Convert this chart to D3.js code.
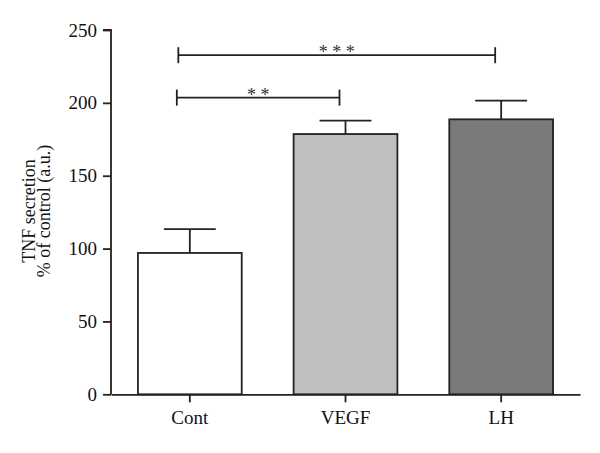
<!DOCTYPE html>
<html><head><meta charset="utf-8">
<script src="https://cdn.jsdelivr.net/npm/d3@7/dist/d3.min.js"></script>
<style>body{margin:0;background:#fff}svg{display:block}</style>
</head><body><svg id="c" width="600" height="453"></svg>
<script>
const categories = ["Cont", "VEGF", "LH"];
const means = [97, 178.6, 188.7];
const errors = [16.4, 9.2, 12.8];
const fills = ["#ffffff", "#bfbfbf", "#7a7a7a"];
const yTicks = [0, 50, 100, 150, 200, 250];
const sig = [
  {from: "Cont", to: "VEGF", y: 203.6, label: "* *"},
  {from: "Cont", to: "LH", y: 232.7, label: "* * *"}
];
const yLabel = ["TNF secretion", "% of control (a.u.)"];

const svg = d3.select("#c");
const font = "'Liberation Serif','Times New Roman',serif";
const x = d3.scaleBand().domain(categories).range([111, 580]).paddingInner(1/3).paddingOuter(0.173);
const y = d3.scaleLinear().domain([0, 250]).range([394.3, 30]);
const ink = "#222";

// bars
svg.selectAll("rect.bar").data(categories).enter().append("rect")
  .attr("x", d => x(d)).attr("width", x.bandwidth())
  .attr("y", (d,i) => y(means[i])).attr("height", (d,i) => y(0) - y(means[i]))
  .attr("fill", (d,i) => fills[i]).attr("stroke", ink).attr("stroke-width", 1.8);

// error bars (upper only)
const cap = x.bandwidth() / 2;
categories.forEach((c, i) => {
  const cx = x(c) + x.bandwidth()/2;
  svg.append("line").attr("x1", cx).attr("x2", cx)
    .attr("y1", y(means[i])).attr("y2", y(means[i] + errors[i]))
    .attr("stroke", ink).attr("stroke-width", 1.8);
  svg.append("line").attr("x1", cx - cap/2).attr("x2", cx + cap/2)
    .attr("y1", y(means[i] + errors[i])).attr("y2", y(means[i] + errors[i]))
    .attr("stroke", ink).attr("stroke-width", 1.8);
});

// axes
const yAxis = svg.append("g").attr("transform", "translate(111,0)")
  .call(d3.axisLeft(y).tickValues(yTicks).tickSize(8).tickPadding(6));
const xAxis = svg.append("g").attr("transform", `translate(0,${y(0)})`)
  .call(d3.axisBottom(x).tickSize(8).tickPadding(8).tickSizeOuter(0));
[yAxis, xAxis].forEach(g => {
  g.attr("font-size", null).attr("font-family", null);
  g.select(".domain").attr("stroke", ink).attr("stroke-width", 1.8);
  g.selectAll(".tick line").attr("stroke", ink).attr("stroke-width", 1.8);
  g.selectAll("text").attr("fill", "#111").style("font-family", font).style("font-size", "19px");
});
yAxis.select(".domain").attr("d", `M-8,${y(250)}H0V${y(0)}`);

// y label
const yl = svg.append("text").attr("transform", "translate(0,211) rotate(-90)")
  .attr("text-anchor", "middle").style("font-family", font).style("font-size", "18px").attr("fill", "#111");
yl.append("tspan").attr("x", 0).attr("y", 35).text(yLabel[0]);
yl.append("tspan").attr("x", 0).attr("y", 50).text(yLabel[1]);

// significance brackets
sig.forEach((s, k) => {
  const x1 = x(s.from) + x.bandwidth()/2 - 13 + k*1.5;
  const x2 = x(s.to) + x.bandwidth()/2 - 6;
  const yy = y(s.y);
  const g = svg.append("g").attr("stroke", ink).attr("stroke-width", 1.8);
  g.append("line").attr("x1", x1).attr("x2", x2).attr("y1", yy).attr("y2", yy);
  g.append("line").attr("x1", x1).attr("x2", x1).attr("y1", yy - 8).attr("y2", yy + 8);
  g.append("line").attr("x1", x2).attr("x2", x2).attr("y1", yy - 8).attr("y2", yy + 8);
  svg.append("text").attr("x", (x1 + x2)/2).attr("y", yy + 3)
    .attr("text-anchor", "middle").style("font-family", font)
    .style("font-size", "18px").attr("fill", "#333").text(s.label);
});
</script></body></html>
